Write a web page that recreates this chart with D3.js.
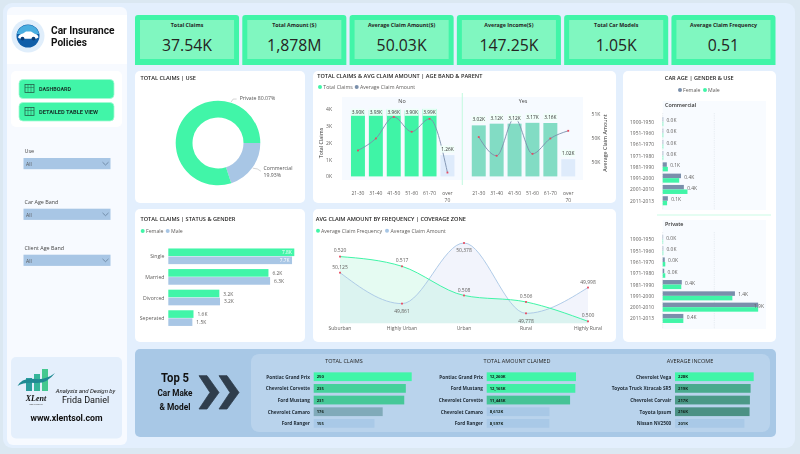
<!DOCTYPE html>
<html>
<head>
<meta charset="utf-8">
<title>Car Insurance Policies</title>
<script src="https://d3js.org/d3.v7.min.js"></script>
<style>
  html, body { margin: 0; padding: 0; background: #dbe8f2; }
  svg { display: block; filter: blur(0.3px); }
  text { font-family: "Open Sans", sans-serif; fill: #252423; dominant-baseline: central; }
</style>
</head>
<body>
<svg id="chart" width="800" height="454"></svg>
<script>
// kpi row
const kpiTitles = ["Total Claims", "Total Amount ($)", "Average Claim Amount($)", "Average Income($)", "Total Car Models", "Average Claim Frequency"];
const kpiValues = ["37.54K", "1,878M", "50.03K", "147.25K", "1.05K", "0.51"];

// donut
const useNames = ["Commercial", "Private"];
const useShares = [19.93, 80.07];

// age band + parent
const ageBands = ["21-30", "31-40", "41-50", "51-60", "61-70", "over 70"];
const claimsNo = [3.90, 3.93, 3.96, 3.90, 3.99, 1.26];
const claimsYes = [3.02, 3.12, 3.12, 3.17, 3.16, 1.02];
const amountNo = [49.74, 49.99, 50.44, 50.13, 50.40, 49.28];
const amountYes = [50.02, 49.63, 50.42, 49.67, 49.99, 50.15];
const leftTicks = [0, 1, 2, 3, 4];
const rightTicks = [49.5, 50, 50.5];

// car age
const carAges = ["1900-1950", "1951-1960", "1961-1970", "1971-1980", "1981-1990", "1991-2000", "2001-2010", "2011-2013"];
const commercialFemale = [0.01, 0.01, 0.01, 0.01, 0.08, 0.355, 0.41, 0.1];
const commercialMale = [0.01, 0.01, 0.01, 0.01, 0.1, 0.32, 0.48, 0.085];
const privateFemale = [0.005, 0.01, 0.04, 0.03, 0.37, 1.4, 1.85, 0.4];
const privateMale = [0.005, 0.01, 0.05, 0.05, 0.36, 1.35, 1.85, 0.4];

// status + gender
const statuses = ["Single", "Married", "Divorced", "Seperated"];
const statusFemale = [7.8, 6.2, 3.16, 1.56];
const statusMale = [7.66, 6.3, 3.2, 1.49];

// coverage zone
const zones = ["Suburban", "Highly Urban", "Urban", "Rural", "Highly Rural"];
const zoneFrequency = [0.520, 0.517, 0.508, 0.506, 0.500];
const zoneAmount = [50125, 49861, 50378, 49778, 49998];

// top 5
const claimCars = ["Pontiac Grand Prix", "Chevrolet Corvette", "Ford Mustang", "Chevrolet Camaro", "Ford Ranger"];
const claimCounts = [250, 235, 231, 176, 155];
const amountCars = ["Pontiac Grand Prix", "Ford Mustang", "Chevrolet Corvette", "Chevrolet Camaro", "Ford Ranger"];
const amountTotals = [12260, 12165, 11445, 8612, 8597];
const incomeCars = ["Chevrolet Vega", "Toyota Truck Xtracab SR5", "Chevrolet Corvair", "Toyota Ipsum", "Nissan NV2500"];
const incomeAverages = [228, 219, 217, 216, 201];

const GREEN = "#41f5a8", BLUE = "#a8c6e5", SLATE = "#7a8fab", GREY = "#605e5c", RED = "#e84a5f";
const svg = d3.select("#chart");

function label(g, x, y, str, size, opts) {
  opts = opts || {};
  const t = g.append("text")
    .attr("x", x).attr("y", y)
    .attr("text-anchor", opts.anchor || "start")
    .style("font-size", size + "px")
    .style("font-weight", opts.weight || 400)
    .style("font-style", opts.italic ? "italic" : "normal")
    .style("font-family", opts.font || null)
    .style("fill", opts.fill || "#252423")
    .text(str);
  if (opts.fit) t.attr("textLength", opts.fit).attr("lengthAdjust", "spacingAndGlyphs");
  return t;
}

function box(g, x, y, w, h, fill, r) {
  return g.append("rect").attr("x", x).attr("y", y).attr("width", w).attr("height", h).attr("rx", r || 0).attr("fill", fill);
}

function dot(g, x, y, fill) {
  g.append("circle").attr("cx", x).attr("cy", y).attr("r", 2).attr("fill", fill);
}

const kk = v => v.toFixed(1) + "K";

// page frame
const page = svg.append("g");
box(page, 3, 3, 792, 445, "#e3effd", 9);
box(page, 7, 7, 120, 438, "#f7faff", 6);
box(page, 7, 15, 120, 49, "#ffffff");
box(page, 11, 71, 111, 56, "#ffffff", 5);
box(page, 135, 71, 170, 132, "#ffffff", 5);
box(page, 135, 209, 170, 133, "#ffffff", 5);
box(page, 313, 71, 303, 132, "#ffffff", 5);
box(page, 313, 209, 303, 133, "#ffffff", 5);
box(page, 623, 71, 153, 271, "#ffffff", 5);

// sidebar header
const side = svg.append("g");
side.append("circle").attr("cx", 28).attr("cy", 36).attr("r", 16.5).attr("fill", "#e0eefb");
side.append("circle").attr("cx", 28).attr("cy", 36).attr("r", 11.5).attr("fill", "#0f5ea8");
side.append("path").attr("d", "M16.8 34A11.5 11.5 0 0 1 39.2 34Z").attr("fill", "#4aaee0");
side.append("path").attr("d", "M18 37.5Q19 34 23 33.6L26 31.6H31L35 34Q38 34.4 38.5 37.5L36 38.8H20Z").attr("fill", "#ffffff");
side.append("circle").attr("cx", 22.5).attr("cy", 38.6).attr("r", 1.9).attr("fill", "#0a3f78");
side.append("circle").attr("cx", 33.5).attr("cy", 38.6).attr("r", 1.9).attr("fill", "#0a3f78");
const narrow = "'Liberation Sans Narrow', 'Roboto', sans-serif";
label(side, 51, 30.3, "Car Insurance", 10, { font: narrow, weight: 700, fill: "#111", fit: 63.5 });
label(side, 51, 42, "Policies", 10, { font: narrow, weight: 700, fill: "#111", fit: 36 });

// nav buttons
[["DASHBOARD", 79.5, 19, 32], ["DETAILED TABLE VIEW", 102.5, 18.5, 59]].forEach(b => {
  const rect = box(side, 19, b[1], 95, b[2], GREEN, 4);
  rect.attr("stroke", "#a6fad4").attr("stroke-width", 0.8);
  box(side, 25, b[1] + 5, 9, 8, "none").attr("stroke", "#26604a").attr("stroke-width", 0.8);
  side.append("path").attr("d", `M25 ${b[1] + 8}H34M28 ${b[1] + 5}V${b[1] + 13}M31 ${b[1] + 5}V${b[1] + 13}`).attr("stroke", "#26604a").attr("stroke-width", 0.5);
  label(side, 39, b[1] + b[2] / 2, b[0], 6.2, { weight: 700, fill: "#17332a", font: narrow, fit: b[3] });
});

// slicers
[["Use", 151, 158], ["Car Age Band", 201.7, 208.7], ["Client Age Band", 247.7, 254.7]].forEach(s => {
  label(side, 24.5, s[1], s[0], 5.4, { fill: "#444" });
  box(side, 23.5, s[2], 87, 11.2, BLUE);
  label(side, 26, s[2] + 5.8, "All", 5, { fill: "#555" });
  side.append("path").attr("d", `M102.5 ${s[2] + 4.2}L105.5 ${s[2] + 7}L108.5 ${s[2] + 4.2}`).attr("fill", "none").attr("stroke", "#5c7590").attr("stroke-width", 0.7);
});

// author card
box(side, 11, 357, 111, 81.5, "#e4effc", 5);
const logoBars = [[26, 10, "#2a9d9d"], [34, 14, "#35b59a"], [42, 19, "#45c890"]];
logoBars.forEach(b => box(side, b[0], 391 - b[1] - 3, 6, b[1] + 3, b[2]));
side.append("path").attr("d", "M17.5 386Q22 377 36 379Q46 380 55 373Q47 384 35 383Q24 382 17.5 386Z").attr("fill", "#1f8a93");
label(side, 36, 398, "XLent", 8, { font: "'Liberation Serif', serif", italic: true, anchor: "middle", fill: "#111", weight: 700 });
label(side, 36, 403.5, "SOLUTIONS", 2.4, { anchor: "middle", fill: "#444" });
label(side, 85.5, 390.5, "Analysis and Design by", 6, { italic: true, anchor: "middle", font: narrow, fill: "#111" });
label(side, 85.5, 399.5, "Frida Daniel", 9, { anchor: "middle", font: narrow, fill: "#111" });
label(side, 66.5, 418, "www.xlentsol.com", 8.4, { anchor: "middle", font: narrow, fill: "#111", weight: 700, fit: 72 });

// kpi cards
const kpiX = d3.scaleBand().domain(kpiTitles).range([135, 775.5]).paddingInner(0.03).paddingOuter(0);
const kpis = svg.append("g").selectAll("g").data(kpiTitles).join("g").attr("transform", d => `translate(${kpiX(d)},15)`);
kpis.append("path")
  .attr("d", d => { const w = kpiX.bandwidth(); return `M0 50V3Q0 0 3 0H${w - 3}Q${w} 0 ${w} 3V50Z`; })
  .attr("fill", GREEN);
kpis.append("rect").attr("x", 5).attr("y", 5).attr("width", kpiX.bandwidth() - 10).attr("height", 39).attr("fill", "#80f7c0");
kpis.append("text").attr("x", kpiX.bandwidth() / 2).attr("y", 10.4).attr("text-anchor", "middle")
  .style("font-size", "5.3px").style("font-weight", 700).text(d => d);
kpis.append("text").attr("x", kpiX.bandwidth() / 2).attr("y", 30).attr("text-anchor", "middle")
  .style("font-size", "15.8px").text((d, i) => kpiValues[i]);

// donut: total claims by use
const donutG = svg.append("g");
label(donutG, 140.5, 78, "TOTAL CLAIMS | USE", 5.6, { weight: 600 });
const pieCenter = donutG.append("g").attr("transform", "translate(218,143)");
const pie = d3.pie().sort(null).startAngle(Math.PI / 2).endAngle(Math.PI * 2.5);
const arc = d3.arc().innerRadius(25.5).outerRadius(42.3);
const slices = pie(useShares);
pieCenter.selectAll("path").data(slices).join("path")
  .attr("d", arc)
  .attr("fill", (d, i) => i === 0 ? BLUE : GREEN);
const commercialAngle = (slices[0].startAngle + slices[0].endAngle) / 2;
const pA = d3.pointRadial(commercialAngle, 43);
const pB = d3.pointRadial(0.31, 43);
pieCenter.append("path").attr("d", `M${pA[0]} ${pA[1]}Q${pA[0] + 5} ${pA[1]} ${pA[0] + 8} ${pA[1] + 3}`).attr("fill", "none").attr("stroke", "#aaa").attr("stroke-width", 0.5);
pieCenter.append("path").attr("d", `M${pB[0]} ${pB[1]}L${pB[0] + 2} ${pB[1] - 3}H${pB[0] + 5.5}`).attr("fill", "none").attr("stroke", "#aaa").attr("stroke-width", 0.5);
label(donutG, 239.7, 98, useNames[1] + " " + useShares[1].toFixed(2) + "%", 5.2, { fill: "#555" });
label(donutG, 263.5, 168, useNames[0], 5.2, { fill: "#555" });
label(donutG, 263.5, 175, useShares[0].toFixed(2) + "%", 5.2, { fill: "#555" });

// combo: claims + amount by age band and parent
const combo = svg.append("g");
label(combo, 317.3, 76, "TOTAL CLAIMS & AVG CLAIM AMOUNT | AGE BAND & PARENT", 5.6, { weight: 600 });
dot(combo, 320, 87, GREEN);
label(combo, 323.3, 87, "Total Claims", 5.2, { fill: GREY });
dot(combo, 356.7, 87, SLATE);
label(combo, 360, 87, "Average Claim Amount", 5.2, { fill: GREY });

const yClaims = d3.scaleLinear().domain([0, 4]).range([176.4, 108.8]);
const yAmount = d3.scaleLinear().domain([49.5, 50.5]).range([162, 114]);
leftTicks.forEach(t => label(combo, 329, yClaims(t), t + "K", 5, { anchor: "middle", fill: GREY }));
rightTicks.forEach(t => label(combo, 596, yAmount(t), d3.format(".0f")(t + 0.01) + "K", 5, { anchor: "middle", fill: GREY }));
label(combo, 0, 0, "Total Claims", 5.4, { anchor: "middle", fill: "#333" }).attr("transform", "translate(321,143) rotate(-90)");
label(combo, 0, 0, "Average Claim Amount", 5.4, { anchor: "middle", fill: "#333" }).attr("transform", "translate(605,143) rotate(-90)");

function drawParent(name, claims, amounts, x0, panelX, panelW, color) {
  const g = combo.append("g");
  box(g, panelX, 97, panelW, 83, "#f6faff");
  label(g, panelX + panelW / 2, 101.3, name, 5.4, { anchor: "middle", fill: "#444" });
  const x = d3.scaleBand().domain(ageBands).range([x0, x0 + 107.4]).paddingInner(0.22).paddingOuter(0.11);
  g.selectAll("rect.bar").data(claims).join("rect").attr("class", "bar")
    .attr("x", (d, i) => x(ageBands[i]))
    .attr("y", d => yClaims(d))
    .attr("width", x.bandwidth())
    .attr("height", d => yClaims(0) - yClaims(d))
    .attr("fill", d => d > 2 ? color : "#deebfb");
  const line = d3.line().x((d, i) => x(ageBands[i]) + x.bandwidth() / 2).y(d => yAmount(d)).curve(d3.curveMonotoneX);
  g.append("path").attr("d", line(amounts)).attr("fill", "none").attr("stroke", SLATE).attr("stroke-width", 0.9);
  g.selectAll("rect.pt").data(amounts).join("rect").attr("class", "pt")
    .attr("x", (d, i) => x(ageBands[i]) + x.bandwidth() / 2 - 0.9)
    .attr("y", d => yAmount(d) - 0.9)
    .attr("width", 1.8).attr("height", 1.8).attr("fill", RED);
  claims.forEach((d, i) => {
    const cx = x(ageBands[i]) + x.bandwidth() / 2, cy = Math.max(112.2, yClaims(d) - 6);
    box(g, cx - 7, cy - 3.6, 14, 7.2, "rgba(240,255,249,.92)");
    label(g, cx, cy, d.toFixed(2) + "K", 4.8, { anchor: "middle", fill: "#333" });
    const parts = ageBands[i].split(" ");
    parts.forEach((p, k) => label(g, cx, 193 + k * 7, p, 5, { anchor: "middle", fill: GREY }));
  });
}
drawParent("No", claimsNo, amountNo, 349, 342, 120, "#3ff4a6");
drawParent("Yes", claimsYes, amountYes, 469.8, 463, 120, "#82dcc4");
combo.append("line").attr("x1", 462.3).attr("x2", 462.3).attr("y1", 93).attr("y2", 185).attr("stroke", "#b2f8d8").attr("stroke-width", 0.8);

// car age small multiples
const ageG = svg.append("g");
label(ageG, 699.3, 78, "CAR AGE | GENDER & USE", 5.6, { anchor: "middle", weight: 600 });
dot(ageG, 680, 90, SLATE);
label(ageG, 683, 90, "Female", 5.2, { fill: GREY });
dot(ageG, 705, 90, GREEN);
label(ageG, 708, 90, "Male", 5.2, { fill: GREY });
ageG.append("line").attr("x1", 657).attr("x2", 771).attr("y1", 215).attr("y2", 215).attr("stroke", "#c5fae2").attr("stroke-width", 0.9);

const xCar = d3.scaleLinear().domain([0, 1]).range([662.7, 714.3]);
function drawUse(name, female, male, top, rowTop) {
  const g = ageG.append("g");
  box(g, 662.7, top, 103.3, 109, "#f8fbff");
  label(g, 665, top + 4.4, name, 5.4, { weight: 600, fill: "#333" });
  g.append("line").attr("x1", xCar(1)).attr("x2", xCar(1)).attr("y1", top + 12).attr("y2", top + 109)
    .attr("stroke", "#cfd6dd").attr("stroke-width", 0.5).attr("stroke-dasharray", "0.8,1");
  g.append("line").attr("x1", xCar(0)).attr("x2", xCar(0)).attr("y1", top + 12).attr("y2", top + 109)
    .attr("stroke", "#cfd6dd").attr("stroke-width", 0.5).attr("stroke-dasharray", "0.8,1");
  const y = d3.scaleBand().domain(carAges).range([rowTop, rowTop + 90.4]).paddingInner(0.2).paddingOuter(0.1);
  carAges.forEach((c, i) => {
    const yy = y(c), h = y.bandwidth() / 2;
    label(g, 654, yy + h, c, 4.9, { anchor: "end", fill: GREY });
    box(g, xCar(0), yy, Math.max(xCar(female[i]) - xCar(0), 0.4), h, SLATE);
    box(g, xCar(0), yy + h, Math.max(xCar(male[i]) - xCar(0), 0.4), h, GREEN);
    const lx = Math.min(xCar(female[i]) + 3.3, 754);
    label(g, lx, yy + h - 1.5, kk(female[i]), 4.9, { fill: GREY });
  });
}
drawUse("Commercial", commercialFemale, commercialMale, 101, 116);
drawUse("Private", privateFemale, privateMale, 220, 233.7);

// status + gender bars
const statusG = svg.append("g");
label(statusG, 140.5, 219, "TOTAL CLAIMS | STATUS & GENDER", 5.6, { weight: 600 });
dot(statusG, 142.7, 231, GREEN);
label(statusG, 146, 231, "Female", 5.2, { fill: GREY });
dot(statusG, 167.7, 231, BLUE);
label(statusG, 171, 231, "Male", 5.2, { fill: GREY });
const xStatus = d3.scaleLinear().domain([0, 7.8]).range([168.3, 294.3]);
const yStatus = d3.scaleBand().domain(statuses).range([246, 328.4]).paddingInner(0.24).paddingOuter(0.12);
const rowH = yStatus.bandwidth() / 2;
statuses.forEach((s, i) => {
  const yy = yStatus(s);
  label(statusG, 164.5, yy + rowH, s, 5.2, { anchor: "end", fill: GREY });
  box(statusG, xStatus(0), yy, xStatus(statusFemale[i]) - xStatus(0), rowH - 0.2, GREEN);
  box(statusG, xStatus(0), yy + rowH + 0.2, xStatus(statusMale[i]) - xStatus(0), rowH - 0.2, BLUE);
  [[statusFemale[i], yy + rowH / 2], [statusMale[i], yy + rowH * 1.5]].forEach(p => {
    if (p[0] > 7) label(statusG, xStatus(p[0]) - 2.5, p[1], kk(p[0]), 4.9, { anchor: "end", fill: "#ffffff" });
    else label(statusG, xStatus(p[0]) + 4, p[1], kk(p[0]), 4.9, { fill: GREY });
  });
});

// frequency vs amount by zone
const zoneG = svg.append("g");
label(zoneG, 315.7, 218.7, "AVG CLAIM AMOUNT BY FREQUENCY | COVERAGE ZONE", 5.6, { weight: 600 });
dot(zoneG, 318, 230.7, GREEN);
label(zoneG, 321, 230.7, "Average Claim Frequency", 5.2, { fill: GREY });
dot(zoneG, 387, 230.7, BLUE);
label(zoneG, 390.6, 230.7, "Average Claim Amount", 5.2, { fill: GREY });
const xZone = d3.scalePoint().domain(zones).range([340, 588]);
const yFreq = d3.scaleLinear().domain([0.4994, 0.5242]).range([323.3, 243]);
const yAmt = d3.scaleLinear().domain([49693, 50378]).range([323.3, 243]);
function zoneSeries(values, yScale, areaColor) {
  const xOf = (d, i) => xZone(zones[i]);
  zoneG.append("path")
    .attr("d", d3.area().x(xOf).y0(323.3).y1(d => yScale(d)).curve(d3.curveMonotoneX)(values))
    .attr("fill", areaColor);
  return d3.line().x(xOf).y(d => yScale(d)).curve(d3.curveMonotoneX)(values);
}
const amtPath = zoneSeries(zoneAmount, yAmt, "rgba(214,222,245,.32)");
const freqPath = zoneSeries(zoneFrequency, yFreq, "rgba(150,240,205,.25)");
zoneG.append("path").attr("d", amtPath).attr("fill", "none").attr("stroke", BLUE).attr("stroke-width", 0.9);
zoneG.append("path").attr("d", freqPath).attr("fill", "none").attr("stroke", GREEN).attr("stroke-width", 1);
const freqOffset = [-6.7, -6.4, -5, -6.2, -6];
const amtOffset = [-6, 7.6, 7.3, 7.7, -6];
zones.forEach((z, i) => {
  const x = xZone(z);
  [[zoneAmount[i], yAmt, d3.format(",")(zoneAmount[i]), amtOffset[i]], [zoneFrequency[i], yFreq, zoneFrequency[i].toFixed(3), freqOffset[i]]].forEach(s => {
    const py = s[1](s[0]);
    box(zoneG, x - 0.9, py - 0.9, 1.8, 1.8, RED);
    label(zoneG, x, py + s[3], s[2], 5, { anchor: "middle", fill: GREY });
  });
  label(zoneG, x, 328, z, 5, { anchor: "middle", fill: GREY });
});

// top 5 band
const band = svg.append("g");
box(band, 135, 349, 641, 88, "#a8c8e6", 5);
box(band, 251, 354, 519, 78, "#b9d3ec", 8);
label(band, 175, 377.5, "Top 5", 12.5, { anchor: "middle", font: narrow, fill: "#111", weight: 700, fit: 28 });
label(band, 175, 392.7, "Car Make", 9, { anchor: "middle", font: narrow, fill: "#111", weight: 700, fit: 35 });
label(band, 175, 406.8, "& Model", 9, { anchor: "middle", font: narrow, fill: "#111", weight: 700, fit: 31 });
[199, 219].forEach(x => {
  band.append("path")
    .attr("d", `M${x} 375.7H${x + 8}L${x + 20} 392.5L${x + 8} 409H${x}L${x + 11} 392.5Z`)
    .attr("fill", "#2f3e4d").attr("stroke", "#2f3e4d").attr("stroke-width", 0.8).attr("stroke-linejoin", "round");
});

function drawTop(title, titleX, names, values, format, x0, maxWidth) {
  const g = band.append("g");
  label(g, titleX, 360.7, title, 5.5, { anchor: "middle", fill: "#252423" });
  const x = d3.scaleLinear().domain([0, d3.max(values)]).range([x0, x0 + maxWidth]);
  const y = d3.scaleBand().domain(names).range([370.9, 429.2]).paddingInner(0.25).paddingOuter(0.125);
  const lo = d3.min(values), hi = d3.max(values);
  const color = d3.scaleLinear().domain([lo, (lo + hi) / 2, hi]).range(["#a9c9e7", "#4d8480", GREEN]);
  names.forEach((n, i) => {
    const yy = y(n), mid = yy + y.bandwidth() / 2;
    label(g, x0 - 3.7, mid, n, 4.7, { anchor: "end", weight: 700, fill: "#1e2a35" });
    box(g, x0, yy, x(values[i]) - x0, y.bandwidth(), color(values[i]));
    label(g, x0 + 3, mid + 0.2, format(values[i]), 4.2, { weight: 700, fill: "#10201a" });
  });
}
drawTop("TOTAL CLAIMS", 344, claimCars, claimCounts, d => d, 313.7, 98);
drawTop("TOTAL AMOUNT CLAIMED", 517, amountCars, amountTotals, d => d3.format(",")(d) + "K", 486.7, 89.3);
drawTop("AVERAGE INCOME", 690, incomeCars, incomeAverages, d => d + "K", 675, 78.7);
</script>
</body>
</html>
